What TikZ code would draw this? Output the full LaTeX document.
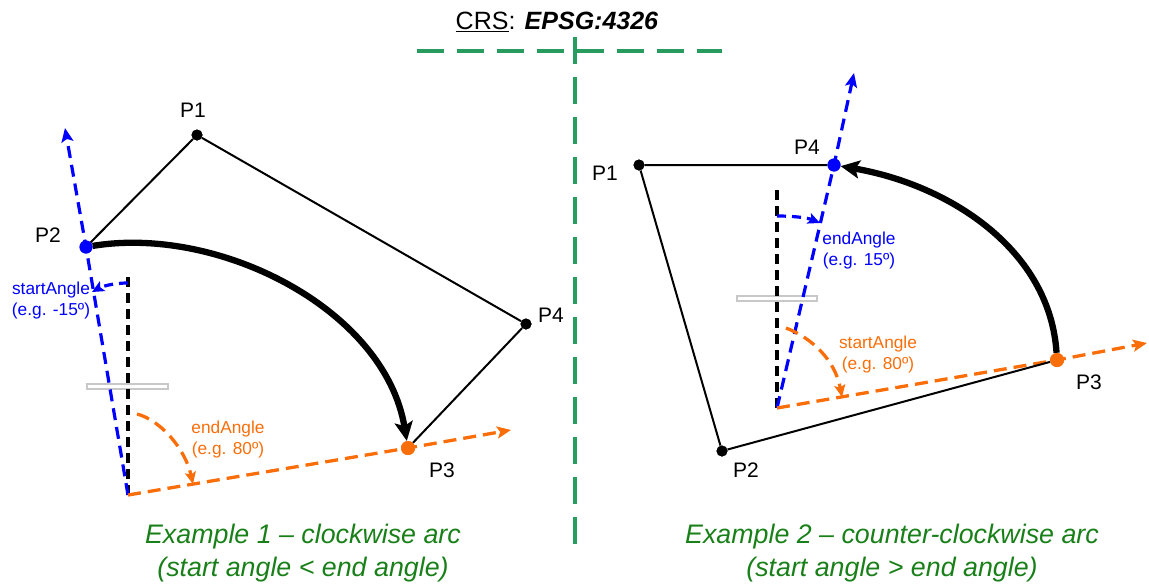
\documentclass[tikz,border=0pt]{standalone}
\usepackage{fontspec}
\setmainfont{Liberation Sans}
\usetikzlibrary{arrows.meta}
\definecolor{ored}{RGB}{250,110,10}
\definecolor{gline}{RGB}{40,155,95}
\definecolor{gtext}{RGB}{25,128,25}
\definecolor{bl}{RGB}{0,0,255}
\definecolor{rectgray}{RGB}{200,200,200}
\begin{document}
\begin{tikzpicture}[x=1pt,y=-1pt,
  kdot/.style={circle,fill=black,inner sep=0pt,minimum size=11pt},
  bdot/.style={circle,fill=bl,inner sep=0pt,minimum size=13pt},
  odot/.style={circle,fill=ored,inner sep=0pt,minimum size=14pt},
  poly/.style={line width=2pt,black},
  bigarc/.style={line width=6.3pt,black,-{Stealth[length=19pt,width=18pt,inset=4pt]}},
  bdash/.style={bl,line width=3.2pt,dash pattern=on 12pt off 7pt},
  odash/.style={ored,line width=3.3pt,dash pattern=on 13pt off 7pt},
  kdash/.style={black,line width=3.3pt,dash pattern=on 10pt off 6pt},
  gdash/.style={gline,line width=3.6pt,dash pattern=on 27pt off 13pt},
  bigtip/.style={-{Stealth[length=14pt,width=12pt,inset=3pt]}},
  smalltip/.style={-{Stealth[length=12pt,width=11pt,inset=2.5pt]}},
  ptlbl/.style={font=\fontsize{21}{25}\selectfont,inner sep=0pt},
  anglbl/.style={font=\fontsize{17.3}{21}\selectfont,align=center,inner sep=0pt},
  captxt/.style={font=\fontsize{26.8}{33}\selectfont\itshape,text=gtext,align=center,inner sep=0pt},
  grayrect/.style={draw=rectgray,line width=1.2pt,fill=white}
]
\useasboundingbox (0,0) rectangle (1149,584);

% ---------- title and separator ----------
\node[font=\fontsize{25}{28}\selectfont,inner sep=0pt] (title) at (557,22)
  {\underline{CRS}: \textbf{\textit{EPSG:4326}}};
\coordinate (gh1) at (417,51);
\coordinate (gh2) at (722,51);
\coordinate (gv1) at (575,37);
\coordinate (gv2) at (575,547);
\draw[gdash] (gh1) -- (gh2);
\draw[gdash] (gv1) -- (gv2);

% ---------- Example 1 ----------
\coordinate (O1) at (128,495);
\coordinate (K1) at (128,276);
\coordinate (BT1) at (65,128);
\coordinate (OT1) at (511,430);
\node[grayrect,inner sep=0pt,minimum width=81pt,minimum height=5pt] (gr1) at (127.5,386.5) {};
\draw[kdash] (O1) -- (K1);

\node[kdot] (L1) at (197,135) {};
\node[bdot] (L2) at (86,247) {};
\node[odot] (L3) at (408,448) {};
\node[kdot] (L4) at (526,324) {};

\draw[bdash,bigtip] (O1) -- (L2.center) -- (BT1);
\draw[odash,bigtip] (O1) -- (L3.center) -- (OT1);

\coordinate (ba1) at (128,283);
\coordinate (ba2) at (92,292);
\draw[bdash,smalltip,dash pattern=on 9pt off 6pt] (ba1) .. controls (112,283) and (101,287) .. (ba2);
\coordinate (oa1) at (137,414);
\coordinate (oa2) at (193,484);
\draw[odash,smalltip] (oa1) .. controls (160,420) and (185,448) .. (oa2);

\draw[poly] (L2) -- (L1) -- (L4) -- (L3);
\draw[bigarc] (L2) .. controls (220,225) and (385,310) .. (L3);

\node[kdot] at (L1) {};
\node[bdot] at (L2) {};
\node[odot] at (L3) {};
\node[kdot] at (L4) {};

\node[ptlbl] (tL1) at (193,110) {P1};
\node[ptlbl] (tL2) at (48,235) {P2};
\node[ptlbl] (tL3) at (442,470) {P3};
\node[ptlbl] (tL4) at (551,315) {P4};
\node[anglbl,text=bl] (sa1) at (51,301) {startAngle\\(e.g. -15º)};
\node[anglbl,text=ored] (ea1) at (228,440) {endAngle\\(e.g. 80º)};

\node[captxt] (cap1) at (303,553) {Example 1 – clockwise arc\\(start angle < end angle)};

% ---------- Example 2 ----------
\coordinate (O2) at (777,408);
\coordinate (K2) at (777,188);
\coordinate (BT2) at (854,73);
\coordinate (OT2) at (1147,343);
\node[grayrect,inner sep=0pt,minimum width=80pt,minimum height=5pt] (gr2) at (777,298.5) {};
\draw[kdash] (O2) -- (K2);

\node[kdot] (R1) at (639,165) {};
\node[kdot] (R2) at (722,451) {};
\node[odot] (R3) at (1057,360) {};
\node[bdot] (R4) at (834,165) {};

\draw[bdash,bigtip] (O2) -- (R4.center) -- (BT2);
\draw[odash,bigtip] (O2) -- (R3.center) -- (OT2);

\coordinate (bb1) at (777,216);
\coordinate (bb2) at (820,223);
\draw[bdash,smalltip,dash pattern=on 9pt off 6pt] (bb1) .. controls (795,216) and (808,218) .. (bb2);
\coordinate (ob1) at (786,328);
\coordinate (ob2) at (842,397);
\draw[odash,smalltip] (ob1) .. controls (812,338) and (835,360) .. (ob2);

\draw[poly] (R4) -- (R1) -- (R2) -- (R3);
\draw[bigarc] (R3) .. controls (1050,250) and (950,185) .. (R4);

\node[kdot] at (R1) {};
\node[kdot] at (R2) {};
\node[odot] at (R3) {};
\node[bdot] at (R4) {};

\node[ptlbl] (tR1) at (605,173) {P1};
\node[ptlbl] (tR2) at (746,470) {P2};
\node[ptlbl] (tR3) at (1089,382) {P3};
\node[ptlbl] (tR4) at (807,147) {P4};
\node[anglbl,text=bl] (ea2) at (859,251) {endAngle\\(e.g. 15º)};
\node[anglbl,text=ored] (sa2) at (878,355) {startAngle\\(e.g. 80º)};

\node[captxt] (cap2) at (892,553) {Example 2 – counter-clockwise arc\\(start angle > end angle)};
\end{tikzpicture}
\end{document}
